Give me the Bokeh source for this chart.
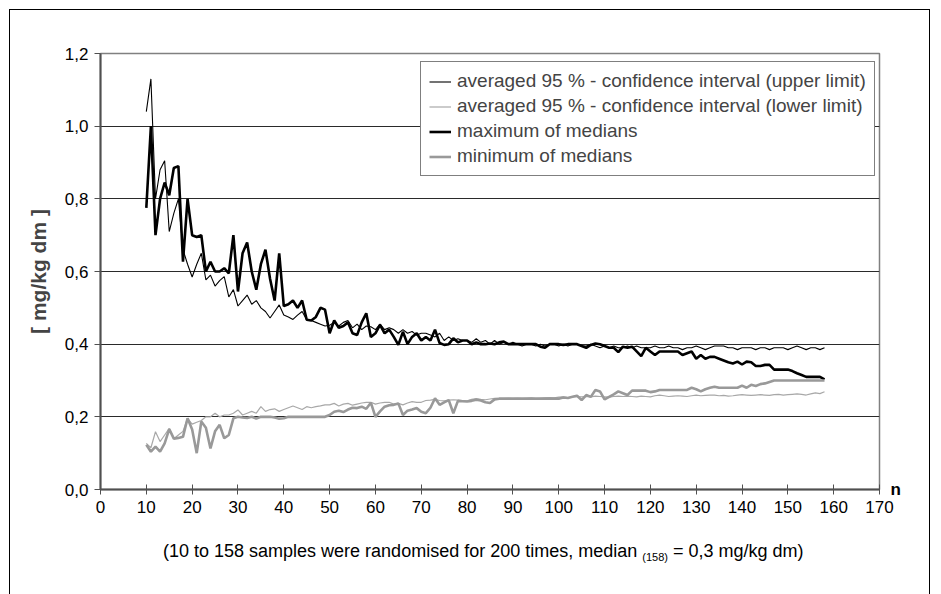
from bokeh.plotting import figure
from bokeh.models import (Legend, LegendItem, FixedTicker, ColumnDataSource,
                          LinearAxis, Div)
from bokeh.layouts import column
from bokeh.embed import file_html
from bokeh.resources import INLINE

n_samples = list(range(10, 159))

ci_upper = [
    1.04, 1.13, 0.80, 0.88, 0.905, 0.71, 0.76, 0.80, 0.66, 0.62,
    0.585, 0.62, 0.65, 0.577, 0.59, 0.56, 0.575, 0.586, 0.53, 0.55,
    0.505, 0.52, 0.535, 0.51, 0.52, 0.50, 0.49, 0.472, 0.49, 0.508,
    0.48, 0.475, 0.468, 0.48, 0.49, 0.467, 0.465, 0.46, 0.455, 0.45,
    0.452, 0.46, 0.45, 0.46, 0.465, 0.445, 0.455, 0.44, 0.45, 0.448,
    0.44, 0.455, 0.44, 0.445, 0.44, 0.43, 0.44, 0.43, 0.435, 0.425,
    0.43, 0.43, 0.425, 0.42, 0.43, 0.41, 0.42, 0.41, 0.415, 0.41,
    0.41, 0.405, 0.415, 0.405, 0.41, 0.40, 0.41, 0.40, 0.405, 0.40,
    0.405, 0.40, 0.395, 0.40, 0.40, 0.395, 0.40, 0.395, 0.40, 0.40,
    0.395, 0.40, 0.395, 0.40, 0.40, 0.395, 0.395, 0.40, 0.395, 0.39,
    0.395, 0.39, 0.395, 0.39, 0.39, 0.395, 0.39, 0.395, 0.39, 0.39,
    0.39, 0.395, 0.39, 0.39, 0.395, 0.39, 0.39, 0.385, 0.39, 0.39,
    0.395, 0.39, 0.385, 0.39, 0.395, 0.395, 0.395, 0.39, 0.39, 0.385,
    0.39, 0.39, 0.39, 0.385, 0.39, 0.39, 0.385, 0.39, 0.39, 0.39,
    0.385, 0.39, 0.395, 0.39, 0.385, 0.39, 0.39, 0.385, 0.39,
]

ci_lower = [
    0.127, 0.115, 0.159, 0.132, 0.15, 0.168, 0.14, 0.15, 0.16, 0.196,
    0.18, 0.185, 0.19, 0.20, 0.20, 0.21, 0.20, 0.205, 0.205, 0.21,
    0.219, 0.205, 0.21, 0.215, 0.21, 0.228, 0.215, 0.22, 0.222, 0.215,
    0.22, 0.225, 0.23, 0.225, 0.22, 0.228, 0.225, 0.228, 0.23, 0.233,
    0.233, 0.237, 0.23, 0.235, 0.237, 0.232, 0.235, 0.238, 0.24, 0.24,
    0.235, 0.238, 0.24, 0.24, 0.235, 0.237, 0.233, 0.238, 0.242, 0.24,
    0.24, 0.245, 0.246, 0.248, 0.245, 0.244, 0.246, 0.247, 0.246, 0.245,
    0.244, 0.248, 0.25, 0.248, 0.247, 0.249, 0.251, 0.25, 0.25, 0.251,
    0.25, 0.251, 0.25, 0.251, 0.252, 0.25, 0.251, 0.252, 0.253, 0.252,
    0.254, 0.255, 0.253, 0.255, 0.256, 0.255, 0.256, 0.255, 0.257, 0.256,
    0.255, 0.254, 0.256, 0.257, 0.256, 0.257, 0.256, 0.255, 0.257, 0.256,
    0.255, 0.258, 0.26, 0.258, 0.256, 0.257, 0.258, 0.257, 0.256, 0.258,
    0.26, 0.258, 0.259, 0.26, 0.26, 0.258, 0.259, 0.257, 0.258, 0.26,
    0.261, 0.26, 0.259, 0.26, 0.261, 0.26, 0.259, 0.261, 0.262, 0.26,
    0.261, 0.262, 0.263, 0.262, 0.26, 0.263, 0.266, 0.264, 0.269,
]

max_medians = [
    0.775, 1.00, 0.70, 0.80, 0.845, 0.81, 0.885, 0.89, 0.627, 0.80,
    0.70, 0.695, 0.70, 0.60, 0.627, 0.60, 0.60, 0.609, 0.595, 0.70,
    0.545, 0.65, 0.68, 0.60, 0.55, 0.62, 0.66, 0.58, 0.52, 0.65,
    0.505, 0.51, 0.52, 0.50, 0.52, 0.467, 0.465, 0.475, 0.50, 0.495,
    0.43, 0.465, 0.445, 0.45, 0.46, 0.43, 0.425, 0.46, 0.485, 0.42,
    0.43, 0.453, 0.43, 0.44, 0.42, 0.398, 0.434, 0.40, 0.42, 0.43,
    0.41, 0.42, 0.41, 0.44, 0.403, 0.398, 0.40, 0.416, 0.405, 0.41,
    0.41, 0.40, 0.405, 0.40, 0.40, 0.402, 0.40, 0.405, 0.407, 0.40,
    0.40, 0.40, 0.40, 0.40, 0.40, 0.40, 0.393, 0.39, 0.40, 0.40,
    0.40, 0.398, 0.40, 0.40, 0.40, 0.395, 0.39, 0.398, 0.402, 0.40,
    0.395, 0.39, 0.39, 0.378, 0.393, 0.39, 0.393, 0.38, 0.367, 0.39,
    0.38, 0.37, 0.38, 0.38, 0.38, 0.38, 0.38, 0.37, 0.375, 0.38,
    0.36, 0.37, 0.36, 0.365, 0.365, 0.36, 0.355, 0.35, 0.347, 0.352,
    0.344, 0.352, 0.35, 0.34, 0.34, 0.343, 0.343, 0.33, 0.33, 0.33,
    0.33, 0.326, 0.32, 0.315, 0.31, 0.31, 0.31, 0.31, 0.303,
]

min_medians = [
    0.123, 0.104, 0.118, 0.104, 0.127, 0.166, 0.14, 0.142, 0.145, 0.196,
    0.165, 0.10, 0.187, 0.17, 0.113, 0.16, 0.178, 0.141, 0.15, 0.196,
    0.20, 0.198, 0.197, 0.20, 0.195, 0.20, 0.20, 0.20, 0.198, 0.195,
    0.196, 0.20, 0.20, 0.20, 0.20, 0.20, 0.20, 0.20, 0.20, 0.20,
    0.205, 0.214, 0.217, 0.213, 0.22, 0.225, 0.224, 0.228, 0.222, 0.239,
    0.20, 0.215, 0.228, 0.232, 0.233, 0.237, 0.205, 0.217, 0.22, 0.224,
    0.214, 0.21, 0.225, 0.251, 0.233, 0.24, 0.246, 0.21, 0.244, 0.243,
    0.242, 0.244, 0.247, 0.245, 0.24, 0.238, 0.248, 0.25, 0.25, 0.25,
    0.25, 0.25, 0.25, 0.25, 0.25, 0.25, 0.25, 0.25, 0.25, 0.25,
    0.25, 0.253, 0.252, 0.255, 0.258, 0.246, 0.26, 0.255, 0.274, 0.27,
    0.248, 0.255, 0.262, 0.27, 0.265, 0.26, 0.272, 0.272, 0.272, 0.272,
    0.268, 0.27, 0.274, 0.274, 0.274, 0.274, 0.274, 0.274, 0.274, 0.28,
    0.276, 0.27, 0.276, 0.28, 0.283, 0.28, 0.28, 0.28, 0.28, 0.28,
    0.286, 0.28, 0.288, 0.285, 0.29, 0.292, 0.296, 0.30, 0.30, 0.30,
    0.30, 0.30, 0.30, 0.30, 0.30, 0.30, 0.30, 0.30, 0.30,
]

x_ticks = list(range(0, 171, 10))
y_ticks = [0.0, 0.2, 0.4, 0.6, 0.8, 1.0, 1.2]
y_tick_labels = ["0,0", "0,2", "0,4", "0,6", "0,8", "1,0", "1,2"]

legend_labels = [
    "averaged 95 % - confidence interval (upper limit)",
    "averaged 95 % - confidence interval (lower limit)",
    "maximum of medians",
    "minimum of medians",
]
y_title = "[ mg/kg dm ]"
x_title = "n"
caption_main = "(10 to 158 samples were randomised for 200 times, median"
caption_sub = "(158)"
caption_end = "= 0,3 mg/kg dm)"

FONT = "Liberation Sans"

src = ColumnDataSource(dict(n=n_samples, up=ci_upper, lo=ci_lower,
                            mx=max_medians, mn=min_medians))

p = figure(width=921, height=520, x_range=(0, 170), y_range=(0, 1.2),
           output_backend="svg", toolbar_location=None,
           min_border_left=90, min_border_right=50,
           min_border_top=43, min_border_bottom=41)

p.outline_line_color = "#808080"
p.outline_line_width = 1.5

r_up = p.line("n", "up", source=src, line_color="black", line_width=1.1)
r_lo = p.line("n", "lo", source=src, line_color="#a8a8a8", line_width=1.2)
r_mx = p.line("n", "mx", source=src, line_color="black", line_width=2.6)
r_mn = p.line("n", "mn", source=src, line_color="#999999", line_width=2.6)

p.xgrid.visible = False
p.ygrid.ticker = FixedTicker(ticks=y_ticks)
p.ygrid.grid_line_color = "#2a2a2a"
p.ygrid.grid_line_width = 1

p.xaxis.ticker = FixedTicker(ticks=x_ticks)
p.yaxis.ticker = FixedTicker(ticks=y_ticks)
p.yaxis.major_label_overrides = {t: l for t, l in zip(y_ticks, y_tick_labels)}

for ax in (p.xaxis, p.yaxis):
    ax.axis_line_color = "#505050"
    ax.axis_line_width = 2
    ax.major_tick_line_color = "#505050"
    ax.major_tick_line_width = 1
    ax.minor_tick_line_color = None
    ax.major_label_text_font = FONT
    ax.major_label_text_font_size = "17px"
    ax.major_label_text_color = "black"

p.xaxis.major_tick_in = 5
p.xaxis.major_tick_out = 5
p.xaxis.major_label_standoff = 6
p.yaxis.major_tick_in = 0
p.yaxis.major_tick_out = 6
p.yaxis.major_label_standoff = 6

p.yaxis.axis_label = y_title
p.yaxis.axis_label_text_font = FONT
p.yaxis.axis_label_text_font_style = "bold"
p.yaxis.axis_label_text_font_size = "21px"
p.yaxis.axis_label_standoff = 12

# axis title "n" at the right end of the x axis
n_axis = LinearAxis(ticker=FixedTicker(ticks=[0.0]),
                    major_label_overrides={0.0: x_title})
n_axis.axis_line_color = None
n_axis.major_tick_line_color = None
n_axis.minor_tick_line_color = None
n_axis.major_tick_out = 0
n_axis.major_tick_in = 0
n_axis.major_label_standoff = 11
n_axis.major_label_text_font = FONT
n_axis.major_label_text_font_style = "bold"
n_axis.major_label_text_font_size = "17px"
n_axis.major_label_text_color = "black"
p.add_layout(n_axis, "right")

legend = Legend(items=[
    LegendItem(label=legend_labels[0], renderers=[r_up]),
    LegendItem(label=legend_labels[1], renderers=[r_lo]),
    LegendItem(label=legend_labels[2], renderers=[r_mx]),
    LegendItem(label=legend_labels[3], renderers=[r_mn]),
], location=(320, 313))
legend.label_text_font = FONT
legend.label_text_font_size = "19px"
legend.label_height = 21
legend.glyph_height = 21
legend.glyph_width = 22
legend.label_standoff = 6
legend.spacing = 3
legend.padding = 8
legend.margin = 0
legend.border_line_color = "black"
legend.border_line_width = 1.5
legend.background_fill_color = "white"
legend.background_fill_alpha = 1
p.add_layout(legend, "center")

caption_html = (
    '<div style="font-family: \'Liberation Sans\'; font-size: 18px; '
    'color: black; text-align: left; padding-left: 148px; padding-top: 4px; '
    'white-space: nowrap;">'
    f'{caption_main} <span style="font-size: 11px; position: relative; '
    f'top: 4px;">{caption_sub}</span> {caption_end}</div>'
)
caption = Div(text=caption_html, width=921, height=63)

layout = column(p, caption, spacing=0, width=921)
layout.styles = {"border": "1px solid black", "margin-left": "9px",
                 "margin-top": "9px"}

open("out.html", "w").write(file_html(layout, INLINE))
